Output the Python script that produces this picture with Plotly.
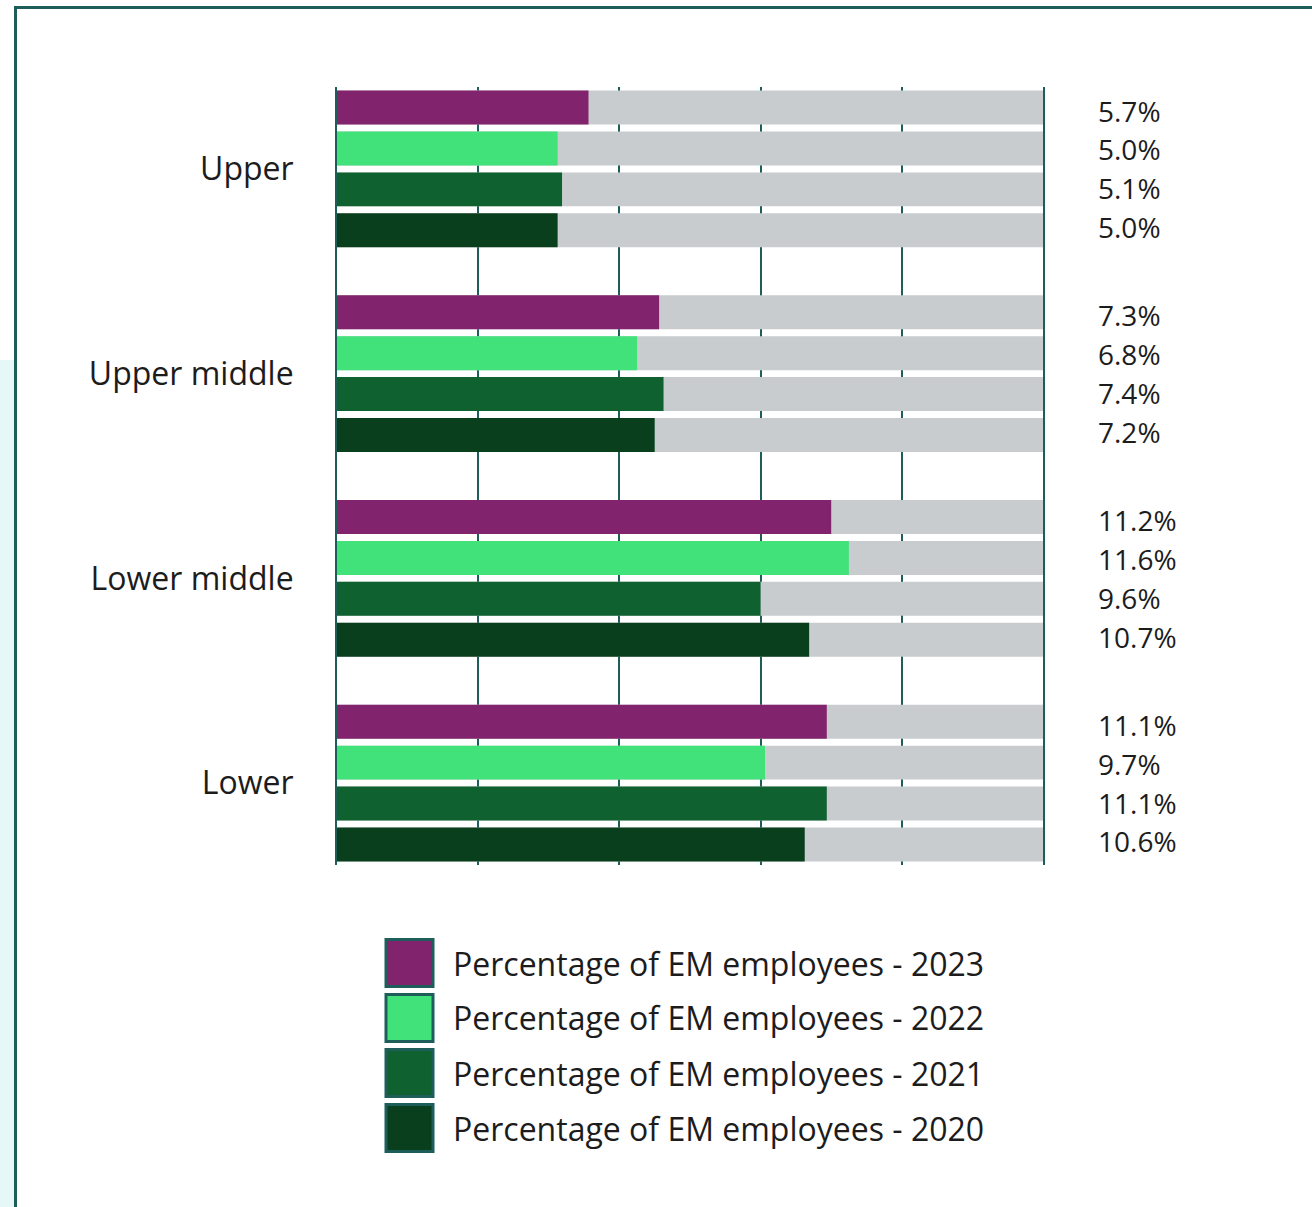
import plotly.graph_objects as go

categories = ["Upper", "Upper middle", "Lower middle", "Lower"]
series_names = ["Percentage of EM employees - 2023", "Percentage of EM employees - 2022",
                "Percentage of EM employees - 2021", "Percentage of EM employees - 2020"]
values_2023 = [5.7, 7.3, 11.2, 11.1]
values_2022 = [5.0, 6.8, 11.6, 9.7]
values_2021 = [5.1, 7.4, 9.6, 11.1]
values_2020 = [5.0, 7.2, 10.7, 10.6]
axis_max = 16

series_values = [values_2023, values_2022, values_2021, values_2020]
colors = ["#82236e", "#41e27a", "#0f6130", "#0a3f1e"]
gray = "#c9cccf"
teal = "#1d5e5a"
txt = "#1c1c1c"
FONT = "Open Sans"

W, H = 1312, 1207
L, R, T, B = 337, 1043, 87, 865

def px(x):
    return (x - L) / (R - L)

def py(y):
    return (B - y) / (B - T)

slot = 0.2
bw = 0.166
ypos = list(range(len(categories)))

fig = go.Figure()
for i, vals in enumerate(series_values):
    off = -0.3 + slot * i - bw / 2
    fig.add_trace(go.Bar(
        y=ypos, x=[axis_max] * len(vals), orientation="h",
        width=bw, offset=off, marker=dict(color=gray, line=dict(width=0)),
        showlegend=False, hoverinfo="skip"))
for i, vals in enumerate(series_values):
    off = -0.3 + slot * i - bw / 2
    fig.add_trace(go.Bar(
        y=ypos, x=vals, orientation="h", name=series_names[i],
        width=bw, offset=off, marker=dict(color=colors[i], line=dict(width=0)),
        showlegend=False))

annotations = []
for i, vals in enumerate(series_values):
    for j, v in enumerate(vals):
        annotations.append(dict(
            x=px(1096), xref="paper", y=j + (i - 1.5) * 0.19, yref="y",
            text=f"{v:.1f}%", showarrow=False, xanchor="left", yanchor="middle",
            font=dict(family=FONT, size=28, color=txt)))

shapes = []
# outer frame and left tint
shapes.append(dict(type="rect", xref="paper", yref="paper",
                   x0=px(0), x1=px(14), y0=py(1215), y1=py(360),
                   fillcolor="#e6f7f7", line=dict(width=0), layer="below"))
shapes.append(dict(type="rect", xref="paper", yref="paper",
                   x0=px(15.5), x1=px(1330), y0=py(1230), y1=py(7.5),
                   fillcolor="rgba(0,0,0,0)", line=dict(color=teal, width=3), layer="below"))

# custom legend
leg_centers = [963, 1018, 1073, 1128]
for i, name in enumerate(series_names):
    cy = leg_centers[i]
    shapes.append(dict(type="rect", xref="paper", yref="paper",
                       x0=px(386), x1=px(433), y0=py(cy + 23.5), y1=py(cy - 23.5),
                       fillcolor=colors[i], line=dict(color=teal, width=3)))
    annotations.append(dict(x=px(451), xref="paper", y=py(cy), yref="paper",
                            text=name, showarrow=False, xanchor="left", yanchor="middle",
                            font=dict(family=FONT, size=32, color=txt)))

fig.update_layout(
    width=W, height=H,
    margin=dict(l=L, r=W - R, t=T, b=H - B),
    paper_bgcolor="white", plot_bgcolor="white",
    barmode="overlay", showlegend=False,
    font=dict(family=FONT, color=txt),
    xaxis=dict(range=[0, axis_max], dtick=axis_max / 5, tick0=0, showticklabels=False,
               showgrid=True, gridcolor=teal, gridwidth=2, zeroline=False,
               showline=False, ticks=""),
    yaxis=dict(range=[3.40, -0.40], tickvals=ypos, ticktext=categories,
               showgrid=False, zeroline=False, showline=True, mirror=True,
               linecolor=teal, linewidth=2, ticks="", ticklabelstandoff=35,
               tickfont=dict(family=FONT, size=32, color=txt)),
    shapes=shapes, annotations=annotations,
)

fig.write_html("out.html", config={"displayModeBar": False},
               post_script="document.body.style.margin='0';")
